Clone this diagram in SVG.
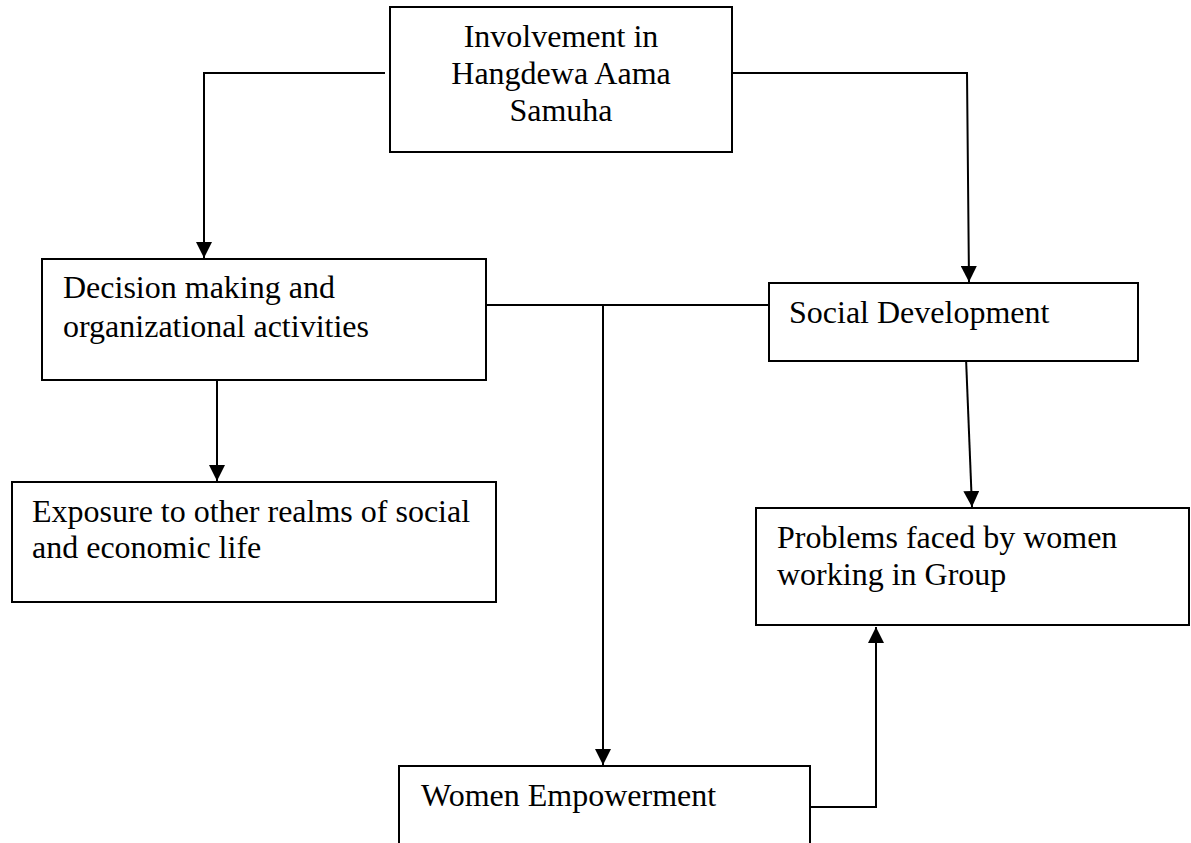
<svg xmlns="http://www.w3.org/2000/svg" width="1191" height="843" viewBox="0 0 1191 843">
<style>
.box{fill:#fff;stroke:#000;stroke-width:2}
.t{font-family:"Liberation Serif","Times New Roman",serif;font-size:32px;fill:#000}
.c{fill:none;stroke:#000;stroke-width:2}
</style>
<defs>
<marker id="ah" viewBox="0 0 16 16" refX="16" refY="8" markerWidth="16" markerHeight="16" markerUnits="userSpaceOnUse" orient="auto">
<path d="M0,0 L16,8 L0,16 Z" fill="#000"/>
</marker>
</defs>
<rect width="1191" height="843" fill="#fff"/>
<g id="connectors">
<path class="c" d="M385,73 L204,73 L204,258" marker-end="url(#ah)"/>
<path class="c" d="M732,73 L967,73 L969,282" marker-end="url(#ah)"/>
<path class="c" d="M217,380 L217,481" marker-end="url(#ah)"/>
<path class="c" d="M486,305 L769,305"/>
<path class="c" d="M603,305 L603,765" marker-end="url(#ah)"/>
<path class="c" d="M966,358 L972,507" marker-end="url(#ah)"/>
<path class="c" d="M810,807 L876,807 L876,627" marker-end="url(#ah)"/>
</g>
<g id="involvement">
<rect class="box" x="390" y="7" width="342" height="145"/>
<text class="t" x="561" y="47" text-anchor="middle">Involvement in</text>
<text class="t" x="561" y="84" text-anchor="middle">Hangdewa Aama</text>
<text class="t" x="561" y="121" text-anchor="middle">Samuha</text>
</g>
<g id="decision">
<rect class="box" x="42" y="259" width="444" height="121"/>
<text class="t" x="63" y="298">Decision making and</text>
<text class="t" x="63" y="337">organizational activities</text>
</g>
<g id="social">
<rect class="box" x="769" y="283" width="369" height="78"/>
<text class="t" x="789" y="323">Social Development</text>
</g>
<g id="exposure">
<rect class="box" x="12" y="482" width="484" height="120"/>
<text class="t" x="32" y="522">Exposure to other realms of social</text>
<text class="t" x="32" y="558">and economic life</text>
</g>
<g id="problems">
<rect class="box" x="756" y="508" width="433" height="117"/>
<text class="t" x="777" y="548">Problems faced by women</text>
<text class="t" x="777" y="585">working in Group</text>
</g>
<g id="women">
<rect class="box" x="399" y="766" width="411" height="90"/>
<text class="t" x="421" y="806">Women Empowerment</text>
</g>
</svg>
